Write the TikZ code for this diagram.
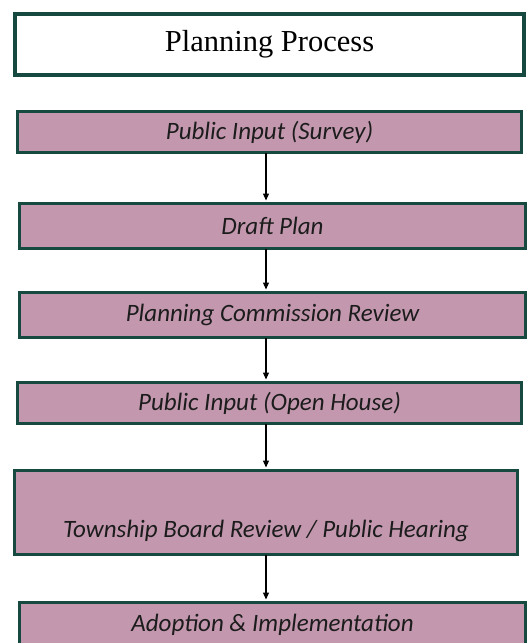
\documentclass[tikz,border=0pt]{standalone}
\usepackage{fontspec}
\setmainfont{Liberation Serif}
\newfontfamily\stagefont{Carlito}
\usetikzlibrary{arrows.meta,positioning}
\definecolor{deepgreen}{RGB}{22,74,64}
\definecolor{mauve}{RGB}{195,152,174}
\definecolor{inktext}{RGB}{28,28,28}

\begin{document}
\begin{tikzpicture}[x=1pt,y=-1pt,
	stage/.style={draw=deepgreen,line width=3pt,fill=mauve,minimum width=504pt,
		outer sep=0pt,inner sep=0pt,text=inktext,
		font=\stagefont\itshape\fontsize{25}{30}\selectfont},
	headbox/.style={draw=deepgreen,line width=4pt,fill=white,outer sep=0pt,
		inner sep=0pt,font=\fontsize{30.5}{36}\selectfont},
	flow/.style={-{Triangle[length=7pt,width=6pt]},line width=1.2pt,shorten >=3pt}]
	\useasboundingbox (0,0) rectangle (527,643);
	\node[headbox,minimum width=509pt,minimum height=61pt] (head) at (269.5,44.5) {\raisebox{-2pt}{Planning Process}};
	\node[stage,minimum height=41pt] (survey) at (269.5,132) {\raisebox{-2pt}{Public Input (Survey)}};
	\node[stage,minimum height=45pt,minimum width=506pt] (draft) at (272.5,226) {Draft Plan};
	\node[stage,minimum height=45pt,minimum width=506pt] (commission) at (272.5,315) {Planning Commission Review};
	\node[stage,minimum height=41pt] (openhouse) at (269.5,403) {Public Input (Open House)};
	\node[stage,minimum height=84pt,minimum width=503pt,
		label={[font=\stagefont\itshape\fontsize{25}{30}\selectfont,text=inktext,yshift=-18pt]center:Township Board Review / Public Hearing}] (board) at (266,512.5) {};
	\node[stage,minimum height=45pt,minimum width=506pt] (adoption) at (272.5,625) {Adoption \& Implementation};
	\foreach \a/\b in {survey/draft,draft/commission,commission/openhouse,openhouse/board,board/adoption}
		\draw[flow] (\a.south -| board.center) -- (\b.north -| board.center);
\end{tikzpicture}
\end{document}
